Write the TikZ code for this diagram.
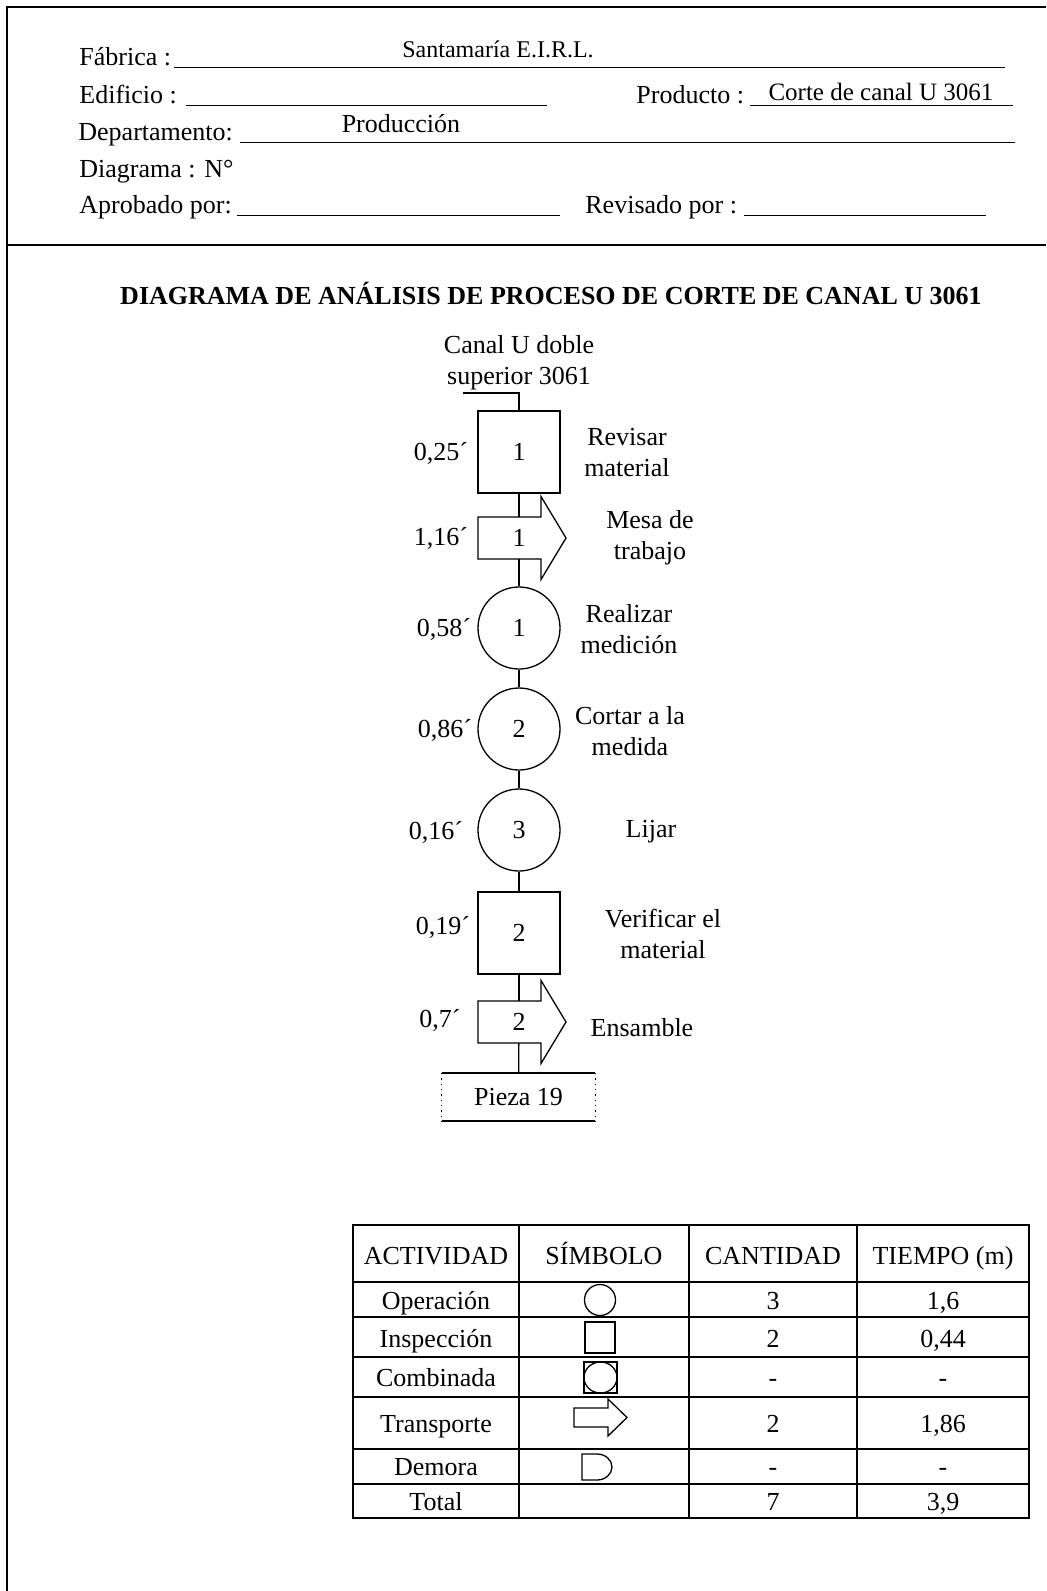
\documentclass[tikz,border=0pt]{standalone}
\usepackage{fontspec}
\setmainfont{Liberation Serif}
\usetikzlibrary{positioning}

\begin{document}
\begin{tikzpicture}[x=0.5pt, y=-0.5pt,
    every node/.style={font=\fontsize{13}{15.5}\selectfont, inner sep=0pt},
    fieldvalue/.style={font=\fontsize{12}{14}\selectfont},
    frameline/.style={line width=0.8pt, draw=borderColour},
    formline/.style={line width=0.5pt},
    flowline/.style={line width=0.65pt},
    inspbox/.style={draw, line width=0.65pt, minimum size=41pt},
    opcircle/.style={draw, circle, line width=0.65pt, minimum size=41pt},
    transbody/.style={minimum height=21pt, minimum width=10pt},
    steplabel/.style={align=center},
    cell/.style={text height=9pt, text depth=2.5pt}]

    % Define colours
    \definecolor{borderColour}{HTML}{000000}

    % Page size
    \useasboundingbox (0,0) rectangle (1046,1591);
    \fill[white] (0,0) rectangle (1046,1591);

    % Draw the frame
    \draw[frameline] (1046,7) -- (7,7) -- (7,1591);
    \draw[frameline] (7,245) -- (1046,245);

    % Header fields
    \node[anchor=base west] (fabrica) at (79,65) {Fábrica :};
    \node[fieldvalue, anchor=base] (empresa) at (498,57) {Santamaría E.I.R.L.};
    \draw[formline] (174,67.5) -- (1005,67.5);

    \node[anchor=base west] (edificio) at (79,103) {Edificio :};
    \draw[formline] (186,105.5) -- (547,105.5);
    \node[anchor=base west] (producto) at (636,103) {Producto :};
    \node[fieldvalue, font=\fontsize{12.5}{14}\selectfont, anchor=base] (productoNombre) at (881,100) {Corte de canal U 3061};
    \draw[formline] (750,105.5) -- (1013,105.5);

    \node[anchor=base west] (depto) at (78,140) {Departamento:};
    \node[anchor=base] (deptoNombre) at (401,132) {Producción};
    \draw[formline] (240,142.5) -- (1015,142.5);

    \node[anchor=base west] (diagrama) at (79,177) {Diagrama : N°};

    \node[anchor=base west] (aprobado) at (79,213) {Aprobado por:};
    \draw[formline] (237,215.5) -- (560,215.5);
    \node[anchor=base west] (revisado) at (585,213) {Revisado por :};
    \draw[formline] (744,215.5) -- (986,215.5);

    % Title
    \node[font=\bfseries\fontsize{13}{15.5}\selectfont] (titulo) at (551,293)
        {DIAGRAMA DE ANÁLISIS DE PROCESO DE CORTE DE CANAL U 3061};

    % Define the process axis
    \def\axisX{519}

    % Starting material
    \node[steplabel] (material) at (\axisX,363) {Canal U doble\\superior 3061};
    \coordinate (entrada) at (463,393);

    % Process steps
    \node[inspbox] (insp1) at (\axisX,452) {1};
    \node[transbody] (trans1) at (\axisX,538) {1};
    \node[opcircle] (op1) at (\axisX,628) {1};
    \node[opcircle] (op2) at (\axisX,729) {2};
    \node[opcircle] (op3) at (\axisX,830) {3};
    \node[inspbox] (insp2) at (\axisX,933) {2};
    \node[transbody] (trans2) at (\axisX,1022) {2};
    \node[minimum width=76.5pt, minimum height=23.5pt] (pieza) at (518.5,1097) {Pieza 19};

    % Draw the transport arrows
    \foreach \t in {trans1,trans2}
        \draw[flowline, shift={(\t.center)}] (-41,-21) -- (22,-21) -- (22,-41.5) -- (47,0)
            -- (22,41.5) -- (22,21) -- (-41,21) -- cycle;

    % Draw the connectors
    \draw[flowline] (entrada) -- (entrada -| insp1) -- (insp1);
    \foreach \a/\b in {insp1/trans1, trans1/op1, op1/op2, op2/op3, op3/insp2, insp2/trans2, trans2/pieza}
        \draw[flowline] (\a) -- (\b);

    % Draw the finished part
    \draw[flowline] (pieza.north west) -- (pieza.north east);
    \draw[flowline] (pieza.south west) -- (pieza.south east);
    \draw[flowline, dotted] (pieza.north west) -- (pieza.south west);
    \draw[flowline, dotted] (pieza.north east) -- (pieza.south east);

    % Times of each step
    \node (tiempo1) at (441,453) {0,25´};
    \node (tiempo2) at (441,538) {1,16´};
    \node (tiempo3) at (444,629) {0,58´};
    \node (tiempo4) at (445,730) {0,86´};
    \node (tiempo5) at (436,832) {0,16´};
    \node (tiempo6) at (443,927) {0,19´};
    \node (tiempo7) at (440,1020) {0,7´};

    % Description of each step
    \node[steplabel] (desc1) at (627,453) {Revisar\\material};
    \node[steplabel] (desc2) at (650,538) {Mesa de\\trabajo};
    \node[steplabel] (desc3) at (629,629) {Realizar\\medición};
    \node[steplabel] (desc4) at (630,731) {Cortar a la\\medida};
    \node[steplabel] (desc5) at (651,832) {Lijar};
    \node[steplabel] (desc6) at (663,934) {Verificar el\\material};
    \node[steplabel] (desc7) at (642,1028) {Ensamble};

    % Summary table grid
    \draw[flowline] (353,1225) rectangle (1029,1518);
    \foreach \x in {519,689,857}
        \draw[flowline] (\x,1225) -- (\x,1518);
    \foreach \y in {1317,1357,1397,1449}
        \draw[flowline] (353,\y) -- (1029,\y);
    \foreach \y in {1282,1484}
        \draw[line width=1pt] (353,\y) -- (1029,\y);

    % Table header
    \node[cell] (hAct) at (436,1258) {ACTIVIDAD};
    \node[cell] (hSim) at (604,1258) {SÍMBOLO};
    \node[cell] (hCant) at (773,1258) {CANTIDAD};
    \node[cell] (hTiempo) at (943,1258) {TIEMPO (m)};

    % Table rows
    \foreach \act/\cant/\tmin/\y [count=\i] in {Operación/3/{1,6}/1303, Inspección/2/{0,44}/1341,
            Combinada/-/-/1380, Transporte/2/{1,86}/1426, Demora/-/-/1469, Total/7/{3,9}/1504} {
        \node[cell] (act\i) at (436,\y) {\act};
        \node[cell] (cant\i) at (773,\y) {\cant};
        \node[cell] (tmin\i) at (943,\y) {\tmin};
    }

    % Table symbols
    \draw[flowline] (600,1300) circle[radius=15.5];
    \draw[flowline] (585,1322) rectangle (615,1353);
    \draw[flowline] (584,1362) rectangle (617,1393);
    \draw[flowline] (600.5,1377.5) ellipse[x radius=16.5, y radius=15.5];
    \draw[flowline] (574,1408) -- (608,1408) -- (608,1399) -- (627,1417.5) -- (608,1436)
        -- (608,1427) -- (574,1427) -- cycle;
    \draw[flowline] (582,1454) -- (597,1454) arc[start angle=-90, end angle=90, x radius=15, y radius=13]
        -- (582,1480) -- cycle;

\end{tikzpicture}
\end{document}
